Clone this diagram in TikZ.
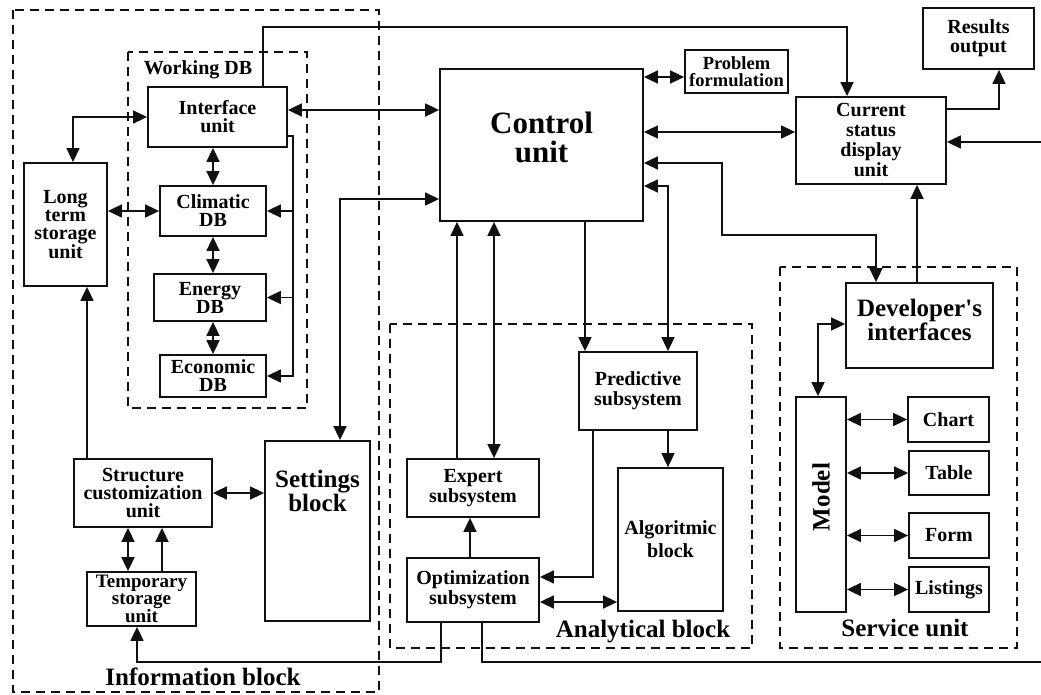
\documentclass[tikz,border=0pt]{standalone}
\usepackage{fontspec}
\setmainfont{Liberation Serif}
\usetikzlibrary{arrows.meta,positioning,calc}
\definecolor{bd-ink}{HTML}{111111}

\begin{document}
\begin{tikzpicture}[x=1pt,y=-1pt,
  unit/.style={draw=bd-ink,line width=1.8pt,inner sep=0pt,align=center,
    font=\bfseries\fontsize{20}{18}\selectfont},
  zone/.style={draw=bd-ink,line width=1.8pt,dash pattern=on 9pt off 6pt},
  tag/.style={inner sep=0pt,align=center,font=\bfseries\fontsize{25}{24}\selectfont},
  lnk/.style={draw=bd-ink,line width=1.7pt,-{Triangle[length=14pt,width=13pt]}},
  dlnk/.style={lnk,{Triangle[length=14pt,width=13pt]}-{Triangle[length=14pt,width=13pt]}}]

\useasboundingbox (0,0) rectangle (1041,695);

% ============ dashed groups ============
\draw[zone] (13,10) rectangle (379,692);    % information block
\draw[zone] (128,52) rectangle (307,408);   % working DB
\draw[zone] (390,324) rectangle (752,648);  % analytical block
\draw[zone] (780,267) rectangle (1017,648); % service unit

\node[tag,font=\bfseries\fontsize{20}{17}\selectfont] (workdblbl) at (198,70) {Working DB};
\node[tag] (infolbl) at (203,677) {Information block};
\node[tag] (analytlbl) at (643,632) {Analytical block};
\node[tag] (servicelbl) at (905,628) {Service unit};

% ============ information block ============
\node[unit,minimum width=139,minimum height=60] (iface) at (217.5,117) {Interface\\unit};
\node[unit,minimum width=106,minimum height=50] (clim) at (213,211) {Climatic\\DB};
\node[unit,minimum width=112,minimum height=47] (energy) at (210,297.5) {Energy\\DB};
\node[unit,minimum width=106,minimum height=42] (econ) at (213,376) {Economic\\DB};
\node[unit,minimum width=83,minimum height=123] (store) at (65.5,224.5) {Long\\term\\storage\\unit};
\node[unit,minimum width=138,minimum height=68] (custom) at (143,493) {Structure\\customization\\unit};
\node[unit,minimum width=109,minimum height=54,font=\bfseries\fontsize{19}{17}\selectfont]
     (temp) at (141.5,599) {Temporary\\storage\\unit};
\node[unit,minimum width=105,minimum height=180] (settings) at (317.5,531) {};
\node[tag] (settingstxt) at (317.5,491) {Settings\\block};

% ============ control and display ============
\node[unit,minimum width=203,minimum height=152] (control) at (541.5,145) {};
\node[tag,font=\bfseries\fontsize{31}{29}\selectfont] (controltxt) at (541.5,137) {Control\\unit};
\node[unit,minimum width=103,minimum height=43,font=\bfseries\fontsize{18.5}{16.5}\selectfont]
     (problem) at (736.5,71.5) {Problem\\formulation};
\node[unit,minimum width=150,minimum height=87,font=\bfseries\fontsize{20}{20}\selectfont]
     (display) at (871,140.5) {Current\\status\\display\\unit};
\node[unit,minimum width=111,minimum height=61,font=\bfseries\fontsize{20}{19}\selectfont]
     (results) at (978.5,38.5) {Results\\output};

% ============ analytical block ============
\node[unit,minimum width=118,minimum height=78,font=\bfseries\fontsize{20}{20}\selectfont]
     (predict) at (638,391) {Predictive\\subsystem};
\node[unit,minimum width=105,minimum height=143,font=\bfseries\fontsize{20}{23}\selectfont]
     (algo) at (670.5,539.5) {Algoritmic\\block};
\node[unit,minimum width=132,minimum height=58,font=\bfseries\fontsize{20}{20}\selectfont]
     (expert) at (473,488) {Expert\\subsystem};
\node[unit,minimum width=132,minimum height=64,font=\bfseries\fontsize{20}{20}\selectfont]
     (optim) at (473,590) {Optimization\\subsystem};

% ============ service unit ============
\node[unit,minimum width=147,minimum height=85] (devel) at (919.5,325.5) {};
\node[tag] (develtxt) at (919.5,320) {Developer\textquotesingle s\\interfaces};
\node[unit,minimum width=50,minimum height=215] (model) at (821,504.5) {};
\node[tag,rotate=90] (modeltxt) at (821,497) {Model};
\node[unit,minimum width=81,minimum height=45] (chart) at (948.5,419.5) {Chart};
\node[unit,minimum width=80,minimum height=44] (table) at (949,473) {Table};
\node[unit,minimum width=80,minimum height=45] (form) at (949,535.5) {Form};
\node[unit,minimum width=80,minimum height=45] (listings) at (949,589.5) {Listings};

% ============ links: information block ============
\draw[dlnk] (iface.west) -| ([xshift=7.5pt]store.north);
\draw[dlnk] (store.east |- clim.west) -- (clim.west);
\draw[dlnk] (iface.south -| clim.north) -- (clim.north);
\draw[dlnk] (clim.south) -- (clim.south |- energy.north);
\draw[dlnk] (econ.north |- energy.south) -- (econ.north);
\coordinate (busx) at (293,0);
\draw[lnk] ([yshift=-19pt]iface.east) -| (busx |- econ.east) -- (econ.east);
\draw[lnk] (busx |- clim.east) -- (clim.east);
\draw[lnk] (busx |- energy.east) -- (energy.east);
\draw[dlnk] ([yshift=7pt]iface.east) -- ([yshift=35pt]control.west);
\draw[lnk] ([xshift=45.5pt]iface.north) -- ++(0,-59) -| ([xshift=-24pt]display.north);
\draw[dlnk] ([yshift=-54pt]control.west) -| ([xshift=22.5pt]settings.north);
\draw[lnk] ([xshift=-56pt]custom.north) -- ([xshift=21.5pt]store.south);
\draw[dlnk] (custom.east) -- (custom.east -| settings.west);
\draw[dlnk] ([xshift=-13.5pt]temp.north) -- ([xshift=-15pt]custom.south);
\draw[lnk] ([xshift=20.5pt]temp.north) -- ([xshift=19pt]custom.south);
\draw[lnk] ([xshift=-32pt]optim.south) -- ++(0,39) -| ([xshift=-4.5pt]temp.south);

% ============ links: control unit ============
\draw[dlnk] ([yshift=68pt]control.east) -- ([yshift=-5.5pt]problem.west);
\draw[dlnk] ([yshift=13pt]control.east) -- ([yshift=8.5pt]display.west);
\draw[dlnk] ([yshift=-18pt]control.east) -- ++(78,0) -- ++(0,72) -| ([xshift=-43.5pt]devel.north);
\draw[dlnk] ([yshift=-41pt]control.east) -| ([xshift=30pt]predict.north);
\draw[lnk] ([xshift=43.5pt]control.south) -- ([xshift=-53pt]predict.north);
\draw[lnk] ([xshift=-16pt]expert.north) -- ([xshift=-84.5pt]control.south);
\draw[dlnk] ([xshift=21pt]expert.north) -- ([xshift=-47.5pt]control.south);
\draw[lnk] ([yshift=31.5pt]display.east) -| ([xshift=20.5pt]results.south);

% ============ links: analytical block ============
\draw[lnk] ([xshift=-3pt]optim.north) -- ([xshift=-3pt]expert.south);
\draw[lnk] ([xshift=-45pt]predict.south) |- ([yshift=13pt]optim.east);
\draw[lnk] ([xshift=30pt]predict.south) -- ([xshift=-2.5pt]algo.north);
\draw[dlnk] ([yshift=-12pt]optim.east) -- ([yshift=-62.5pt]algo.west);
\draw[lnk] ([xshift=9pt]optim.south) -- ++(0,39) -- ++(566,0) |- ([yshift=-1.5pt]display.east);

% ============ links: service unit ============
\draw[lnk] ([xshift=-2.5pt]devel.north) -- ([xshift=46pt]display.south);
\draw[dlnk] ([yshift=1.5pt]devel.west) -| ([xshift=-3pt]model.north);
\draw[dlnk] (chart.west -| model.east) -- (chart.west);
\draw[dlnk] (table.west -| model.east) -- (table.west);
\draw[dlnk] (form.west -| model.east) -- (form.west);
\draw[dlnk] (listings.west -| model.east) -- (listings.west);

\end{tikzpicture}
\end{document}
